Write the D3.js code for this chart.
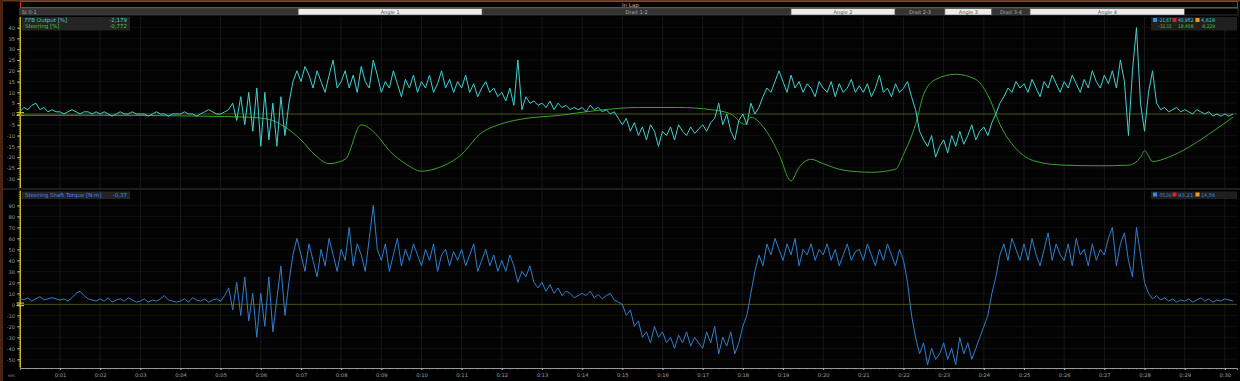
<!doctype html>
<html lang="en">
<head>
<meta charset="UTF-8">
<title>Telemetry</title>
<script src="https://d3js.org/d3.v7.min.js"></script>
<style>
  html, body { margin: 0; padding: 0; background: #000; }
  svg { display: block; font-family: "DejaVu Sans", sans-serif; }
</style>
</head>
<body>
<div id="chart-area"></div>
<script>

// ---- data ----
const segNames  = ['St 0-1', 'Angle 1', 'Drait 1-2', 'Angle 2', 'Drait 2-3', 'Angle 3', 'Drait 3-4', 'Angle 4', ''];
const segStarts = [0, 6.93, 11.51, 19.20, 21.79, 23.03, 24.20, 25.15, 29.00];
const segKinds  = ['dark', 'light', 'dark', 'light', 'dark', 'light', 'dark', 'light', 'black'];

// 0.1 s samples
const ffbOutput = [
  1,3,2,4,5,2,3,1,2,1,  1,0,1,2,1,0,1,1,0,1,  0,1,0,-1,0,1,0,0,1,0,
  0,0,-1,0,1,0,0,-1,0,0,  0,1,0,0,-1,0,1,2,1,0,  0,1,2,5,-3,8,-5,10,-8,12,
  -15,10,-12,5,-15,8,-10,5,15,20,  15,22,18,12,20,15,10,18,25,12,  15,20,12,18,10,22,15,12,25,18,
  10,15,12,20,14,8,16,12,18,10,  15,12,18,10,14,20,12,16,10,15,  12,18,10,14,8,12,15,10,12,8,
  10,6,12,4,25,2,8,5,6,4,  5,3,6,2,5,3,4,2,3,2,  3,1,4,2,3,1,2,0,1,-2,
  -5,-2,-8,-4,-10,-6,-12,-5,-8,-15,  -8,-10,-6,-12,-5,-8,-10,-6,-9,-7,  -5,-8,-4,-2,5,-5,0,-8,-12,-3,
  0,-5,5,0,3,8,12,10,15,20,  15,10,18,12,15,10,14,12,8,15,  12,10,15,8,14,10,12,16,10,13,
  10,14,8,12,18,10,12,8,14,10,  12,15,8,2,-8,-12,-15,-10,-20,-15,  -12,-18,-10,-15,-8,-14,-10,-5,-12,-8,
  -6,-10,-4,0,5,8,12,10,15,12,  14,10,16,12,8,15,12,18,14,10,  15,12,18,14,10,16,12,20,15,12,
  18,14,20,12,25,15,-10,20,40,5,  -8,10,20,5,2,3,1,2,3,1,  2,1,0,2,1,0,1,-1,0,-1,
  0,-1,0
];

const steerTimes = [0, 2, 4.5, 5.7, 6.2, 6.6, 7, 7.35, 7.7, 8.1, 8.5, 8.85, 9.2, 9.6, 10, 10.45, 11, 11.45, 11.95, 12.45,
  13.45, 14.4, 15.4, 16.4, 17.2, 17.7, 18.05, 18.2, 18.55, 18.9, 19.2, 19.4, 19.7, 20, 20.5, 21.2, 21.8, 22, 22.3, 22.5,
  22.8, 23.3, 23.8, 24.15, 24.4, 24.8, 25.3, 26, 26.9, 27.6, 27.9, 28.0, 28.2, 28.6, 29.1, 29.6, 30.2];
const steering = [-0.6, -0.6, -1, -1.5, -2.5, -6, -12, -19, -23, -21, -5, -9, -17, -23, -26.5, -24.7, -18.7, -9.4, -4.8, -2.5,
  -0.6, 1.7, 3, 3, 2, 0, -4.8, -1.5, -7, -18.6, -31, -24.7, -21, -23, -26, -27, -25.6, -18.7, -4.8, 9,
  16, 18.4, 16, 6.8, -4.8, -16, -22, -23.7, -24, -23.7, -20, -17, -22, -20, -15.4, -9.4, -1.5];

const shaftTorque = [
  5,4,6,3,5,7,4,5,6,5,  4,5,3,6,10,12,8,5,4,3,  5,3,6,2,4,5,3,6,4,2,
  3,5,2,4,3,5,8,4,3,2,  3,5,2,6,4,3,5,2,4,5,  3,8,15,-5,20,-10,25,-15,10,-30,
  10,-20,25,-25,5,35,-10,20,45,60,  45,30,55,40,25,50,35,60,45,30,  50,40,70,35,55,45,30,60,90,50,
  40,55,30,45,60,35,50,40,55,45,  35,50,40,55,30,45,50,35,48,40,  50,35,45,55,30,40,50,35,45,30,
  40,30,45,35,20,30,25,35,20,15,  20,12,18,10,15,8,12,10,6,8,  10,8,12,6,9,5,8,10,4,2,
  0,-10,-5,-20,-15,-30,-25,-35,-20,-30,  -25,-35,-30,-40,-28,-35,-25,-38,-30,-35,  -40,-25,-35,-20,-45,-30,-38,-25,-45,-35,
  -20,-10,10,30,45,35,55,45,60,50,  40,55,45,60,35,50,45,55,40,50,  45,55,40,50,35,45,55,40,48,50,
  40,55,45,35,50,40,55,45,35,50,  40,20,-10,-30,-45,-35,-55,-40,-50,-45,  -35,-50,-40,-55,-30,-45,-35,-50,-40,-30,
  -20,-10,10,25,45,55,40,60,50,40,  55,40,60,45,35,50,65,40,55,45,  40,55,35,60,45,50,35,55,40,50,
  45,60,70,35,55,65,40,25,70,45,  20,10,5,8,4,6,3,5,2,4,  3,5,2,4,6,3,5,2,4,3,
  5,4,3
];

const topTicks = [40, 35, 30, 25, 20, 15, 10, 5, 0, -5, -10, -15, -20, -25, -30];
const botTicks = [90, 80, 70, 60, 50, 40, 30, 20, 10, 0, -10, -20, -30, -40, -50];
const timeTicks = d3.range(1, 31);

// ---- layout ----
const W = 1240, H = 381;
const x = d3.scaleLinear().domain([0, 30.3]).range([19.8, 1236.9]);
const yTop = d3.scaleLinear().domain([-34, 45]).range([187.4, 16.8]);
const yBot = d3.scaleLinear().domain([-57.6, 104]).range([367.7, 190]);

const svg = d3.select('#chart-area').append('svg')
  .attr('width', W).attr('height', H);

svg.append('rect').attr('width', W).attr('height', H).attr('fill', '#000');
svg.append('rect').attr('x', 0).attr('y', 0).attr('width', 3).attr('height', H).attr('fill', '#4a2412');

// top bar
svg.append('rect').attr('x', 3).attr('y', 0).attr('width', W - 3).attr('height', 1.5).attr('fill', '#6a3418');
svg.append('rect').attr('x', 20.5).attr('y', 1.5).attr('width', 1217).attr('height', 6)
  .attr('fill', '#050505').attr('stroke', '#c8281e').attr('stroke-width', 1);
svg.append('text').attr('x', 622).attr('y', 6.6).attr('font-size', 5.5).attr('fill', '#b0b0b0').text('In Lap');

// segment bar
const segG = svg.append('g');
segStarts.forEach((s, i) => {
  const x0 = x(s), x1 = i < segStarts.length - 1 ? x(segStarts[i + 1]) : 1238;
  const fill = segKinds[i] === 'light' ? '#ececec' : segKinds[i] === 'dark' ? '#333' : '#000';
  segG.append('rect').attr('x', x0).attr('y', 8.5).attr('width', x1 - x0).attr('height', 6.5)
    .attr('fill', fill).attr('stroke', '#555').attr('stroke-width', 0.6);
  segG.append('text')
    .attr('x', i === 0 ? x0 + 2 : (x0 + x1) / 2)
    .attr('y', 13.6)
    .attr('text-anchor', i === 0 ? 'start' : 'middle')
    .attr('font-size', 5)
    .attr('fill', segKinds[i] === 'light' ? '#555' : '#aaa')
    .text(segNames[i]);
});

// panel backgrounds / grid
function panel(y, ticks, top, bottom, minorStep) {
  const g = svg.append('g');
  g.append('rect').attr('x', 20).attr('y', top).attr('width', 1217).attr('height', bottom - top)
    .attr('fill', '#030303');
  // horizontal grid
  g.selectAll('.hg').data(ticks).enter().append('line')
    .attr('x1', 20).attr('x2', 1237)
    .attr('y1', d => y(d)).attr('y2', d => y(d))
    .attr('stroke', '#151515').attr('stroke-width', 0.6);
  // vertical grid
  g.selectAll('.vg').data(timeTicks).enter().append('line')
    .attr('x1', d => x(d)).attr('x2', d => x(d))
    .attr('y1', top).attr('y2', bottom)
    .attr('stroke', '#262626').attr('stroke-width', 0.6);
  // y axis
  const yAxis = d3.axisLeft(y).tickValues(ticks).tickSize(3).tickPadding(2).tickFormat(d => d);
  const ax = g.append('g').attr('transform', 'translate(20,0)').call(yAxis);
  ax.select('.domain').remove();
  ax.selectAll('line').attr('stroke', '#a8a8a0');
  ax.selectAll('text').attr('fill', '#9a9a9a').attr('font-size', 5.2).attr('font-family', '"DejaVu Sans", sans-serif');
  const dom = y.domain();
  const minor = d3.range(Math.ceil(dom[0] / minorStep) * minorStep, dom[1], minorStep);
  g.selectAll('.mt').data(minor).enter().append('line')
    .attr('x1', 18.5).attr('x2', 20)
    .attr('y1', d => y(d)).attr('y2', d => y(d))
    .attr('stroke', '#c8c840').attr('stroke-width', 0.5);
  g.append('line').attr('x1', 20.3).attr('x2', 20.3).attr('y1', top).attr('y2', bottom)
    .attr('stroke', '#d8d030').attr('stroke-width', 1.2);
  // zero line + yellow marker
  g.append('line').attr('x1', 20).attr('x2', 1237).attr('y1', y(0)).attr('y2', y(0))
    .attr('stroke', '#6a6a18').attr('stroke-width', 0.7);
  [-1.3, 1.3].forEach(o => g.append('line').attr('x1', 16.5).attr('x2', 24)
    .attr('y1', y(0) + o).attr('y2', y(0) + o).attr('stroke', '#f0e020').attr('stroke-width', 1));
  return g;
}

panel(yTop, topTicks, 16.8, 188, 1);
panel(yBot, botTicks, 190.5, 367.7, 2);
svg.append('line').attr('x1', 3).attr('x2', W).attr('y1', 189).attr('y2', 189).attr('stroke', '#3a3a3a');

// series
const tStep = (d, i) => x(i * 0.1);
svg.append('clipPath').attr('id', 'ct').append('rect')
  .attr('x', 20).attr('y', 16.8).attr('width', 1217).attr('height', 171);
svg.append('clipPath').attr('id', 'cb').append('rect')
  .attr('x', 20).attr('y', 190.5).attr('width', 1217).attr('height', 177);

svg.append('path').datum(steering.map((v, i) => [steerTimes[i], v]))
  .attr('clip-path', 'url(#ct)')
  .attr('d', d3.line().x(d => x(d[0])).y(d => yTop(d[1])).curve(d3.curveMonotoneX))
  .attr('fill', 'none').attr('stroke', '#3aa52a').attr('stroke-width', 1);

svg.append('path').datum(ffbOutput)
  .attr('clip-path', 'url(#ct)')
  .attr('d', d3.line().x(tStep).y(d => yTop(d)))
  .attr('fill', 'none').attr('stroke', '#3ed2d0').attr('stroke-width', 1);

svg.append('path').datum(shaftTorque)
  .attr('clip-path', 'url(#cb)')
  .attr('d', d3.line().x(tStep).y(d => yBot(d)))
  .attr('fill', 'none').attr('stroke', '#2f7fd0').attr('stroke-width', 1);

// x axis
const xAxis = d3.axisBottom(x).tickValues(timeTicks).tickSize(2).tickPadding(3)
  .tickFormat(d => '0:' + String(d).padStart(2, '0'));
const xa = svg.append('g').attr('transform', 'translate(0,368)').call(xAxis);
xa.select('.domain').attr('stroke', '#bdbdbd').attr('stroke-width', 0.8);
xa.selectAll('line').attr('stroke', '#bdbdbd');
xa.selectAll('text').attr('fill', '#a0a0a0').attr('font-size', 5.2).attr('font-family', '"DejaVu Sans", sans-serif');
svg.append('g').selectAll('line').data(d3.range(0.2, 30.3, 0.2)).enter().append('line')
  .attr('x1', d => x(d)).attr('x2', d => x(d)).attr('y1', 368).attr('y2', 369.5)
  .attr('stroke', '#9a9a9a').attr('stroke-width', 0.5);
svg.append('text').attr('x', 8).attr('y', 377).attr('font-size', 4.5).attr('fill', '#888').text('sec');

// legends
function legendBox(x0, y0, rows) {
  const g = svg.append('g');
  g.append('rect').attr('x', x0).attr('y', y0).attr('width', 108).attr('height', rows.length * 6 + 1.5)
    .attr('fill', '#2a2a2a').attr('opacity', 0.85);
  rows.forEach((r, i) => {
    g.append('text').attr('x', x0 + 3).attr('y', y0 + 5.3 + i * 6).attr('font-size', 5.5)
      .attr('fill', r.color).text(r.name);
    g.append('text').attr('x', x0 + 105).attr('y', y0 + 5.3 + i * 6).attr('font-size', 5.5)
      .attr('text-anchor', 'end').attr('fill', r.color).text(r.value);
  });
}
legendBox(22, 17, [
  { name: 'FFB Output [%]', value: '-2,179', color: '#3ed2d0' },
  { name: 'Steering [%]', value: '-0,772', color: '#4cc03a' }
]);
legendBox(22, 191.5, [
  { name: 'Steering Shaft Torque [N\u00b7m]', value: '-0,37', color: '#3a8ae0' }
]);

function statBox(y0, rows) {
  const g = svg.append('g');
  g.append('rect').attr('x', 1151).attr('y', y0).attr('width', 86).attr('height', rows.length * 6 + 1.5)
    .attr('fill', '#222').attr('opacity', 0.9);
  const icons = [['#3a8ae0', 1153], ['#e02020', 1172.5], ['#f09a20', 1195.5]];
  icons.forEach(([c, ix]) => g.append('rect').attr('x', ix).attr('y', y0 + 1).attr('width', 4).attr('height', 4).attr('fill', c));
  const cols = [[1158.5, 13], [1178, 15.5], [1201, 14]];
  rows.forEach((r, i) => {
    r.values.forEach((v, j) => {
      g.append('text').attr('x', cols[j][0]).attr('y', y0 + 5.3 + i * 6)
        .attr('font-size', 5.2).attr('fill', r.color)
        .attr('textLength', cols[j][1]).attr('lengthAdjust', 'spacingAndGlyphs')
        .text(v);
    });
  });
}
statBox(17, [
  { values: ['-21,67', '40,952', '4,618'], color: '#3ed2d0' },
  { values: ['-32,32', '18,408', '-8,229'], color: '#4cc03a' }
]);
statBox(191.5, [
  { values: ['-55,00', '93,21', '14,56'], color: '#3a8ae0' }
]);

</script>
</body>
</html>
